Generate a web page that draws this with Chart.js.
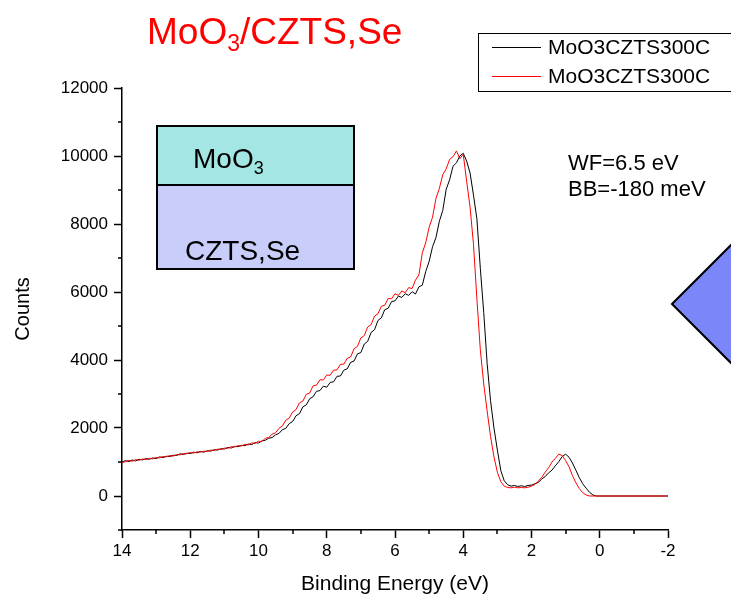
<!DOCTYPE html>
<html>
<head>
<meta charset="utf-8">
<script src="https://cdn.jsdelivr.net/npm/chart.js@4.4.1/dist/chart.umd.min.js"></script>
<style>
  body { margin: 0; background: #fff; }
  canvas { display: block; }
</style>
</head>
<body>
<canvas id="grafica" width="731" height="595"></canvas>
<script>
// binding energy (eV) for every sample
const energias = [
  14.0, 13.9, 13.8, 13.7, 13.6, 13.5, 13.4, 13.3, 13.2, 13.1,
  13.0, 12.9, 12.8, 12.7, 12.6, 12.5, 12.4, 12.3, 12.2, 12.1,
  12.0, 11.9, 11.8, 11.7, 11.6, 11.5, 11.4, 11.3, 11.2, 11.1,
  11.0, 10.9, 10.8, 10.7, 10.6, 10.5, 10.4, 10.3, 10.2, 10.1,
  10.0, 9.9, 9.8, 9.7, 9.6, 9.5, 9.4, 9.3, 9.2, 9.1,
  9.0, 8.9, 8.8, 8.7, 8.6, 8.5, 8.4, 8.3, 8.2, 8.1,
  8.0, 7.9, 7.8, 7.7, 7.6, 7.5, 7.4, 7.3, 7.2, 7.1,
  7.0, 6.9, 6.8, 6.7, 6.6, 6.5, 6.4, 6.3, 6.2, 6.1,
  6.0, 5.9, 5.8, 5.7, 5.6, 5.5, 5.4, 5.3, 5.2, 5.1,
  5.0, 4.9, 4.8, 4.7, 4.6, 4.5, 4.4, 4.3, 4.2, 4.1,
  4.0, 3.9, 3.8, 3.7, 3.6, 3.5, 3.4, 3.3, 3.2, 3.1,
  3.0, 2.9, 2.8, 2.7, 2.6, 2.5, 2.4, 2.3, 2.2, 2.1,
  2.0, 1.9, 1.8, 1.7, 1.6, 1.5, 1.4, 1.3, 1.2, 1.1,
  1.0, 0.9, 0.8, 0.7, 0.6, 0.5, 0.4, 0.3, 0.2, 0.1,
  0.0, -2.0
];

// black curve
const cuentasNegra = [
  1000, 1040, 1010, 1060, 1030, 1080, 1060, 1100, 1080, 1120,
  1100, 1150, 1130, 1170, 1160, 1200, 1190, 1240, 1220, 1260,
  1250, 1290, 1270, 1310, 1290, 1330, 1320, 1360, 1350, 1390,
  1380, 1430, 1410, 1460, 1450, 1490, 1480, 1530, 1510, 1570,
  1560, 1620, 1640, 1700, 1720, 1800, 1840, 1950, 1990, 2130,
  2190, 2360, 2420, 2620, 2680, 2860, 2920, 3080, 3100, 3230,
  3200, 3340, 3360, 3520, 3530, 3700, 3740, 3930, 3970, 4180,
  4220, 4470, 4550, 4810, 4890, 5160, 5240, 5480, 5520, 5720,
  5740, 5880, 5840, 5950, 5900, 6010, 5940, 6150, 6200, 6600,
  6900, 7330, 7600, 8080, 8400, 9020, 9300, 9700, 9800, 10000,
  10080, 9850, 9500, 8850, 8150, 6700, 5400, 3900, 2800, 2000,
  1350, 750, 450, 330, 290, 310, 280, 300, 280, 310,
  320, 360, 400, 500, 570, 680, 760, 890, 1010, 1160,
  1230, 1140, 970, 760, 540, 360, 230, 110, 30, 0,
  0, 0
];

// red curve
const cuentasRoja = [
  980, 1010, 1050, 1020, 1070, 1050, 1090, 1070, 1110, 1090,
  1130, 1120, 1160, 1150, 1190, 1170, 1220, 1210, 1250, 1240,
  1280, 1260, 1300, 1290, 1320, 1310, 1350, 1340, 1380, 1370,
  1410, 1400, 1450, 1440, 1480, 1470, 1520, 1500, 1560, 1550,
  1610, 1600, 1700, 1720, 1820, 1860, 1990, 2060, 2230, 2290,
  2470, 2540, 2740, 2790, 2990, 3030, 3240, 3260, 3420, 3410,
  3560, 3550, 3700, 3710, 3870, 3880, 4050, 4090, 4330, 4400,
  4650, 4720, 4970, 5040, 5290, 5360, 5580, 5610, 5810, 5800,
  5950, 5900, 6030, 5980, 6130, 6100, 6350, 6500, 7150, 7450,
  7900, 8200, 8750, 9050, 9450, 9620, 9900, 9980, 10150, 9920,
  10050, 9250, 8500, 7400, 5800, 4300, 3300, 2500, 1750, 1150,
  700, 420, 290, 250, 240, 260, 240, 250, 240, 260,
  290, 340, 440, 550, 700, 830, 1000, 1110, 1230, 1190,
  1040, 860, 600, 390, 220, 100, 30, 0, 0, 0,
  0, 0
];

const nombres = ['MoO3CZTS300C', 'MoO3CZTS300C'];
const marcasX = [14, 12, 10, 8, 6, 4, 2, 0, -2];
const marcasY = [0, 2000, 4000, 6000, 8000, 10000, 12000];
const menoresX = [13, 11, 9, 7, 5, 3, 1, -1];
const menoresY = [-1000, 1000, 3000, 5000, 7000, 9000, 11000];

const fuente = "'Liberation Sans', Arial, sans-serif";

function puntos(valores) {
    return energias.map((e, i) => ({ x: e, y: valores[i] }));
}

// text with a subscript part
function conSubindice(ctx, base, sub, resto, x, y, tam, tamSub, bajada) {
    ctx.font = tam + 'px ' + fuente;
    ctx.fillText(base, x, y);
    x += ctx.measureText(base).width;
    ctx.font = tamSub + 'px ' + fuente;
    ctx.fillText(sub, x, y + bajada);
    x += ctx.measureText(sub).width;
    if (resto) {
        ctx.font = tam + 'px ' + fuente;
        ctx.fillText(resto, x, y);
    }
}

// minor ticks, decorations and texts
const extras = {
    id: 'extras',
    afterDraw(chart) {
        const ctx = chart.ctx;
        const sx = chart.scales.x, sy = chart.scales.y;
        const area = chart.chartArea;
        ctx.save();
        ctx.strokeStyle = '#000';
        ctx.lineWidth = 1.5;
        ctx.beginPath();
        menoresX.forEach(v => {
            const px = Math.round(sx.getPixelForValue(v));
            ctx.moveTo(px, area.bottom);
            ctx.lineTo(px, area.bottom + 4);
        });
        menoresY.forEach(v => {
            const py = Math.round(sy.getPixelForValue(v));
            ctx.moveTo(area.left, py);
            ctx.lineTo(area.left - 4, py);
        });
        ctx.stroke();

        // title
        ctx.fillStyle = '#ff0000';
        ctx.textBaseline = 'alphabetic';
        conSubindice(ctx, 'MoO', '3', '/CZTS,Se', 147, 44, 37, 23, 7);

        // legend
        ctx.fillStyle = '#fff';
        ctx.fillRect(478, 33, 260, 58);
        ctx.strokeStyle = '#000';
        ctx.lineWidth = 1;
        ctx.strokeRect(478.5, 33.5, 260, 58);
        ctx.font = '21px ' + fuente;
        ctx.textBaseline = 'middle';
        chart.data.datasets.forEach((ds, i) => {
            const ly = 47 + i * 29;
            ctx.strokeStyle = ds.borderColor;
            ctx.beginPath();
            ctx.moveTo(492, ly + 0.5);
            ctx.lineTo(541, ly + 0.5);
            ctx.stroke();
            ctx.fillStyle = '#000';
            ctx.fillText(ds.label, 548, ly + 1);
        });

        // layer sketch
        ctx.lineWidth = 2;
        ctx.strokeStyle = '#000';
        ctx.fillStyle = '#a4e6e4';
        ctx.fillRect(157, 126, 197, 59);
        ctx.fillStyle = '#c8cdf9';
        ctx.fillRect(157, 185, 197, 84);
        ctx.strokeRect(157, 126, 197, 143);
        ctx.beginPath();
        ctx.moveTo(157, 185);
        ctx.lineTo(354, 185);
        ctx.stroke();
        ctx.fillStyle = '#000';
        ctx.textBaseline = 'alphabetic';
        conSubindice(ctx, 'MoO', '3', '', 193, 168, 28, 18, 6);
        ctx.font = '28px ' + fuente;
        ctx.fillText('CZTS,Se', 185, 260);

        // annotations
        ctx.font = '22px ' + fuente;
        ctx.fillText('WF=6.5 eV', 568, 170);
        ctx.fillText('BB=-180 meV', 568, 196);

        // diamond
        ctx.fillStyle = '#7b86f8';
        ctx.beginPath();
        ctx.moveTo(672, 304);
        ctx.lineTo(752, 224);
        ctx.lineTo(832, 304);
        ctx.lineTo(752, 384);
        ctx.closePath();
        ctx.fill();
        ctx.stroke();
        ctx.restore();
    }
};

const ctx = document.getElementById('grafica').getContext('2d');

new Chart(ctx, {
    type: 'line',
    data: {
        datasets: [{
            label: nombres[0],
            data: puntos(cuentasNegra),
            borderColor: '#000000',
            borderWidth: 1,
            pointRadius: 0,
            order: 1
        }, {
            label: nombres[1],
            data: puntos(cuentasRoja),
            borderColor: '#ff0000',
            borderWidth: 1,
            pointRadius: 0,
            order: 0
        }]
    },
    options: {
        responsive: false,
        animation: false,
        layout: { padding: { top: 88, right: 63, left: 0, bottom: 0 } },
        plugins: {
            legend: { display: false },
            tooltip: { enabled: false }
        },
        scales: {
            x: {
                type: 'linear',
                reverse: true,
                min: -2,
                max: 14,
                afterFit: s => { s.height = 65; },
                afterBuildTicks: s => { s.ticks = marcasX.map(v => ({ value: v })); },
                ticks: { color: '#000', font: { family: fuente, size: 17 }, padding: 3, maxRotation: 0 },
                grid: { drawOnChartArea: false, tickLength: 8, tickColor: '#000', tickWidth: 1.5 },
                border: { color: '#000', width: 1.5 },
                title: { display: true, text: 'Binding Energy (eV)', color: '#000',
                         font: { family: fuente, size: 21 }, padding: { top: 0, bottom: -2 } }
            },
            y: {
                min: -1000,
                max: 12000,
                afterFit: s => { s.width = 122; },
                afterBuildTicks: s => { s.ticks = marcasY.map(v => ({ value: v })); },
                ticks: { color: '#000', font: { family: fuente, size: 17 }, padding: 6,
                         callback: v => String(v) },
                grid: { drawOnChartArea: false, tickLength: 8, tickColor: '#000', tickWidth: 1.5 },
                border: { color: '#000', width: 1.5 },
                title: { display: true, text: 'Counts', color: '#000',
                         font: { family: fuente, size: 20 }, padding: { top: 11, bottom: 0 } }
            }
        }
    },
    plugins: [extras]
});
</script>
</body>
</html>
